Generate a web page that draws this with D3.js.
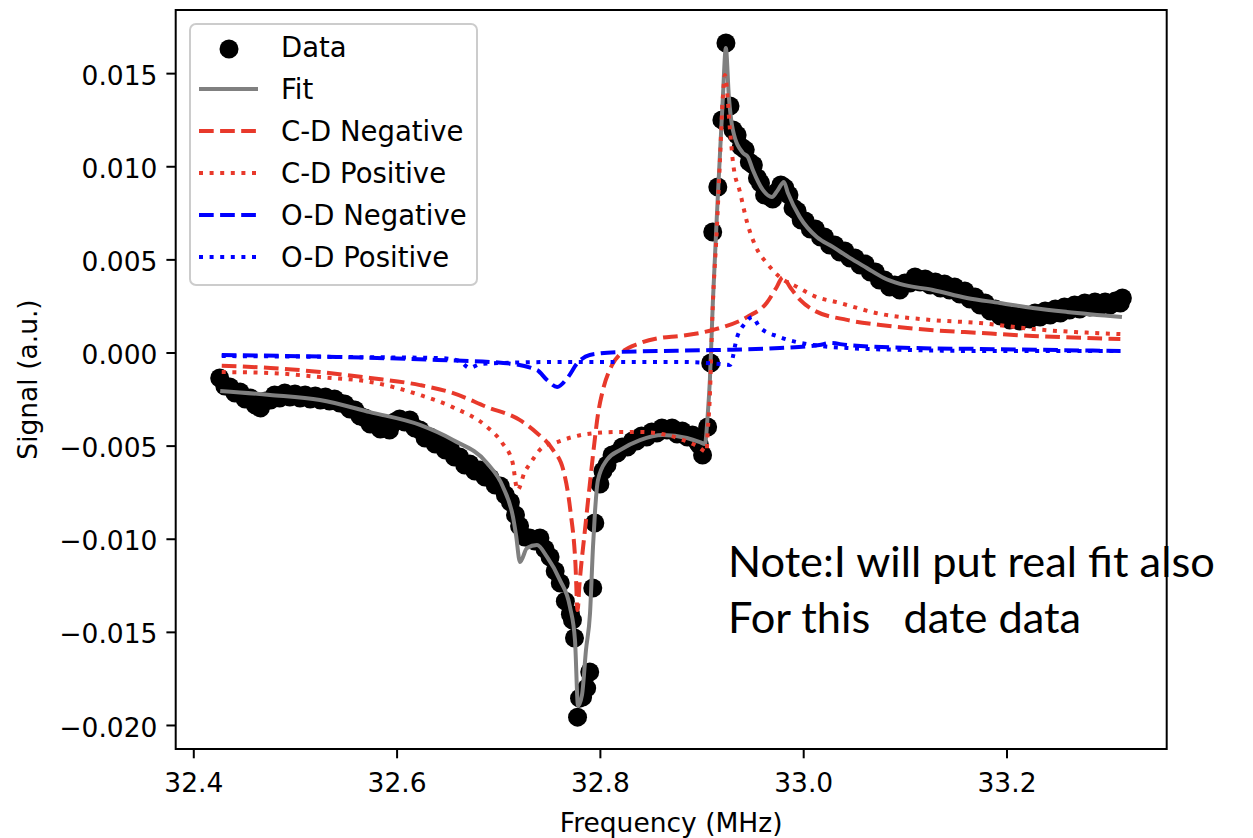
<!DOCTYPE html>
<html>
<head>
<meta charset="utf-8" />
<script src="https://d3js.org/d3.v7.min.js"></script>
<style>
  body { margin: 0; background: white; }
  svg text { font-family: "DejaVu Sans", sans-serif; }
</style>
</head>
<body>
<div id="chart"></div>
<script>
  // measured points (frequency in MHz, signal in a.u.)
  const dataFreq = [
    32.426, 32.431, 32.436, 32.441, 32.446, 32.451, 32.456, 32.461, 32.466, 32.471,
    32.476, 32.480, 32.485, 32.490, 32.495, 32.500, 32.505, 32.510, 32.515, 32.520,
    32.525, 32.530, 32.534, 32.539, 32.544, 32.549, 32.554, 32.559, 32.564, 32.569,
    32.574, 32.579, 32.584, 32.589, 32.593, 32.598, 32.603, 32.608, 32.613, 32.618,
    32.623, 32.628, 32.633, 32.638, 32.643, 32.648, 32.653, 32.657, 32.662, 32.667,
    32.672, 32.677, 32.682, 32.687, 32.692, 32.697, 32.702, 32.707, 32.712, 32.717,
    32.721, 32.726, 32.731, 32.736, 32.741, 32.746, 32.751, 32.756, 32.761, 32.766,
    32.771, 32.773, 32.775, 32.778, 32.780, 32.783, 32.787, 32.790, 32.793, 32.795,
    32.800, 32.803, 32.807, 32.812, 32.817, 32.822, 32.827, 32.832, 32.836, 32.841,
    32.846, 32.851, 32.856, 32.861, 32.866, 32.871, 32.876, 32.881, 32.886, 32.891,
    32.896, 32.898, 32.901, 32.906, 32.909, 32.911, 32.916, 32.920, 32.924, 32.928,
    32.931, 32.935, 32.939, 32.943, 32.947, 32.951, 32.955, 32.958, 32.962, 32.966,
    32.970, 32.974, 32.978, 32.982, 32.986, 32.990, 32.994, 32.998, 33.002, 33.007,
    33.012, 33.017, 33.021, 33.026, 33.031, 33.036, 33.041, 33.046, 33.051, 33.056,
    33.061, 33.066, 33.071, 33.075, 33.080, 33.085, 33.090, 33.095, 33.100, 33.105,
    33.110, 33.115, 33.120, 33.125, 33.130, 33.135, 33.139, 33.144, 33.149, 33.154,
    33.159, 33.164, 33.169, 33.174, 33.179, 33.184, 33.189, 33.194, 33.198, 33.203,
    33.208, 33.213, 33.218, 33.223, 33.228, 33.233, 33.238, 33.243, 33.248, 33.253,
    33.257, 33.262, 33.267, 33.272, 33.277, 33.282, 33.287, 33.292, 33.297, 33.302,
    33.307, 33.312, 33.314
  ];
  const dataSignal = [
    -0.00137, -0.00180, -0.00185, -0.00217, -0.00212, -0.00250, -0.00244, -0.00282, -0.00298, -0.00260,
    -0.00255, -0.00228, -0.00244, -0.00217, -0.00239, -0.00223, -0.00244, -0.00228, -0.00250, -0.00234,
    -0.00255, -0.00239, -0.00260, -0.00250, -0.00271, -0.00277, -0.00303, -0.00309, -0.00341, -0.00352,
    -0.00384, -0.00379, -0.00411, -0.00395, -0.00416, -0.00373, -0.00357, -0.00373, -0.00362, -0.00405,
    -0.00416, -0.00459, -0.00454, -0.00491, -0.00486, -0.00524, -0.00518, -0.00561, -0.00561, -0.00604,
    -0.00599, -0.00636, -0.00631, -0.00669, -0.00674, -0.00712, -0.00717, -0.00765, -0.00803, -0.00872,
    -0.00932, -0.00991, -0.00996, -0.01012, -0.00996, -0.01055, -0.01098, -0.01173, -0.01238, -0.01335,
    -0.01405, -0.01437, -0.01533, -0.01958, -0.01856, -0.01850, -0.01802, -0.01716, -0.01265, -0.00916,
    -0.00706, -0.00636, -0.00604, -0.00550, -0.00540, -0.00507, -0.00507, -0.00475, -0.00475, -0.00448,
    -0.00454, -0.00427, -0.00432, -0.00405, -0.00416, -0.00405, -0.00438, -0.00422, -0.00454, -0.00443,
    -0.00481, -0.00497, -0.00550, -0.00400, -0.00056, 0.00647, 0.00889, 0.01249, 0.01662, 0.01324,
    0.01195, 0.01168, 0.01104, 0.01088, 0.01023, 0.01007, 0.00937, 0.00910, 0.00846, 0.00840,
    0.00824, 0.00862, 0.00900, 0.00884, 0.00846, 0.00776, 0.00760, 0.00711, 0.00706, 0.00663,
    0.00663, 0.00620, 0.00620, 0.00577, 0.00577, 0.00540, 0.00545, 0.00507, 0.00507, 0.00470,
    0.00475, 0.00432, 0.00432, 0.00389, 0.00389, 0.00352, 0.00362, 0.00336, 0.00373, 0.00373,
    0.00405, 0.00379, 0.00395, 0.00362, 0.00379, 0.00346, 0.00368, 0.00336, 0.00352, 0.00314,
    0.00330, 0.00287, 0.00298, 0.00255, 0.00266, 0.00223, 0.00234, 0.00196, 0.00212, 0.00175,
    0.00196, 0.00169, 0.00201, 0.00180, 0.00212, 0.00191, 0.00223, 0.00201, 0.00234, 0.00212,
    0.00244, 0.00228, 0.00255, 0.00234, 0.00266, 0.00244, 0.00271, 0.00250, 0.00271, 0.00255,
    0.00276, 0.00266, 0.00293
  ];

  // total fit
  const fitFreq = [
    32.4265, 32.4755, 32.5246, 32.5738, 32.6230, 32.6555, 32.6889, 32.7047, 32.7145, 32.7175,
    32.7214, 32.7283, 32.7381, 32.7480, 32.7607, 32.7706, 32.7755, 32.7785, 32.7824, 32.7863,
    32.7903, 32.7932, 32.7951, 32.7981, 32.8069, 32.8197, 32.8394, 32.8620, 32.8856, 32.8984,
    32.9033, 32.9062, 32.9082, 32.9111, 32.9160, 32.9210, 32.9239, 32.9269, 32.9308, 32.9406,
    32.9456, 32.9505, 32.9603, 32.9692, 32.9751, 32.9810, 32.9849, 32.9967, 33.0134, 33.0292,
    33.0459, 33.0626, 33.0794, 33.0951, 33.1276, 33.1610, 33.1935, 33.2260, 33.2594, 33.3136
  ];
  const fitSignal = [
    -0.00207, -0.00228, -0.00255, -0.00320, -0.00389, -0.00470, -0.00593, -0.00722, -0.00883, -0.00980,
    -0.01125, -0.01050, -0.01034, -0.01098, -0.01222, -0.01367, -0.01544, -0.01898, -0.01839, -0.01598,
    -0.01399, -0.01045, -0.00862, -0.00685, -0.00577, -0.00524, -0.00470, -0.00443, -0.00459, -0.00481,
    -0.00491, -0.00325, -0.00148, 0.00266, 0.00835, 0.01372, 0.01635, 0.01372, 0.01195, 0.01072,
    0.01050, 0.00980, 0.00873, 0.00835, 0.00873, 0.00916, 0.00857, 0.00727, 0.00620, 0.00567,
    0.00508, 0.00454, 0.00400, 0.00368, 0.00336, 0.00293, 0.00266, 0.00239, 0.00218, 0.00191
  ];

  // C-D negative component
  const cdNegFreq = [
    32.428, 32.476, 32.525, 32.574, 32.623, 32.655, 32.689, 32.721, 32.738, 32.754,
    32.764, 32.771, 32.776, 32.778, 32.780, 32.785, 32.790, 32.794, 32.798, 32.803,
    32.812, 32.820, 32.840, 32.859, 32.879, 32.911, 32.945, 32.964, 32.974, 32.980,
    32.987, 32.997, 33.010, 33.043, 33.076, 33.125, 33.174, 33.226, 33.312
  ];
  const cdNegSignal = [
    -0.00071, -0.00083, -0.00105, -0.00137, -0.00175, -0.00217, -0.00293, -0.00362, -0.00432, -0.00524,
    -0.00631, -0.00851, -0.01141, -0.01383, -0.01238, -0.00969, -0.00712, -0.00513, -0.00336, -0.00201,
    -0.00067, -0.00008, 0.00051, 0.00078, 0.00089, 0.00121, 0.00191, 0.00266, 0.00352, 0.00405,
    0.00352, 0.00282, 0.00228, 0.00175, 0.00148, 0.00121, 0.00105, 0.00089, 0.00072
  ];

  // C-D positive component
  const cdPosFreq = [
    32.428, 32.476, 32.525, 32.574, 32.623, 32.655, 32.689, 32.704, 32.714, 32.719,
    32.726, 32.731, 32.744, 32.758, 32.773, 32.797, 32.820, 32.839, 32.866, 32.882,
    32.897, 32.905, 32.906, 32.908, 32.911, 32.915, 32.918, 32.921, 32.923, 32.928,
    32.931, 32.938, 32.945, 32.955, 32.964, 32.977, 32.994, 33.011, 33.036, 33.076,
    33.125, 33.174, 33.226, 33.312
  ];
  const cdPosSignal = [
    -0.00105, -0.00110, -0.00132, -0.00158, -0.00228, -0.00293, -0.00400, -0.00486, -0.00588, -0.00739,
    -0.00642, -0.00599, -0.00507, -0.00481, -0.00454, -0.00432, -0.00427, -0.00427, -0.00443, -0.00470,
    -0.00507, -0.00534, -0.00432, -0.00255, 0.00244, 0.00658, 0.01018, 0.01372, 0.01490, 0.01195,
    0.01018, 0.00857, 0.00695, 0.00550, 0.00481, 0.00405, 0.00352, 0.00303, 0.00266, 0.00207,
    0.00175, 0.00158, 0.00126, 0.00099
  ];

  // O-D negative component
  const odNegFreq = [
    32.428, 32.541, 32.640, 32.705, 32.738, 32.748, 32.758, 32.768, 32.778, 32.790,
    32.820, 32.911, 32.977, 33.016, 33.026, 33.043, 33.108, 33.174, 33.312
  ];
  const odNegSignal = [
    -0.00013, -0.00024, -0.00040, -0.00056, -0.00094, -0.00148, -0.00185, -0.00137, -0.00056, -0.00013,
    0.00003, 0.00013, 0.00024, 0.00040, 0.00051, 0.00040, 0.00024, 0.00019, 0.00008
  ];

  // O-D positive component
  const odPosFreq = [
    32.428, 32.544, 32.643, 32.662, 32.672, 32.682, 32.705, 32.761, 32.820, 32.879,
    32.918, 32.928, 32.935, 32.943, 32.950, 32.957, 32.977, 33.010, 33.043, 33.108,
    33.174, 33.312
  ];
  const odPosSignal = [
    -0.00019, -0.00024, -0.00030, -0.00046, -0.00083, -0.00062, -0.00056, -0.00051, -0.00051, -0.00051,
    -0.00062, -0.00067, 0.00083, 0.00158, 0.00191, 0.00137, 0.00083, 0.00040, 0.00024, 0.00013,
    0.00008, 0.00008
  ];

  const xTicks = [32.4, 32.6, 32.8, 33.0, 33.2];
  const yTicks = [-0.020, -0.015, -0.010, -0.005, 0.000, 0.005, 0.010, 0.015];
  const xLimits = [32.3827, 33.3576];
  const yLimits = [-0.02129, 0.01839];
  const legendLabels = ["Data", "Fit", "C-D Negative", "C-D Positive", "O-D Negative", "O-D Positive"];
  const noteLines = ["Note:I will put real fit also", "For this   date data"];

  const width = 1253;
  const height = 838;
  const margin = {top: 10, right: 86.3, bottom: 89, left: 175.7};
  const red = "#e8392b";
  const fontSize = 26.5;
  const legendFont = 27.5;

  const svg = d3.select("#chart").append("svg")
    .attr("width", width)
    .attr("height", height)
    .style("display", "block");

  svg.append("rect").attr("width", width).attr("height", height).attr("fill", "white");

  const x = d3.scaleLinear().domain(xLimits).range([margin.left, width - margin.right]);
  const y = d3.scaleLinear().domain(yLimits).range([height - margin.bottom, margin.top]);

  const zip = (fs, ss) => fs.map((f, i) => ({f: f, s: ss[i]}));
  const line = d3.line().x(d => x(d.f)).y(d => y(d.s)).curve(d3.curveMonotoneX);

  // data scatter
  svg.append("g")
    .selectAll("circle")
    .data(zip(dataFreq, dataSignal))
    .join("circle")
      .attr("cx", d => x(d.f))
      .attr("cy", d => y(d.s))
      .attr("r", 9.5)
      .attr("fill", "black");

  const series = [
    {data: zip(fitFreq, fitSignal), color: "gray", dash: null},
    {data: zip(cdNegFreq, cdNegSignal), color: red, dash: "14.7,6.4"},
    {data: zip(cdPosFreq, cdPosSignal), color: red, dash: "4,6.6"},
    {data: zip(odNegFreq, odNegSignal), color: "blue", dash: "14.7,6.4"},
    {data: zip(odPosFreq, odPosSignal), color: "blue", dash: "4,6.6"}
  ];

  series.forEach(s => {
    svg.append("path")
      .datum(s.data)
      .attr("d", line)
      .attr("fill", "none")
      .attr("stroke", s.color)
      .attr("stroke-width", 4)
      .attr("stroke-linejoin", "round")
      .attr("stroke-dasharray", s.dash);
  });

  // annotation text (sits under the frame)
  const note = svg.append("g");
  const noteText = noteLines.map((t, i) => note.append("text")
    .attr("x", 728)
    .attr("y", 577 + i * 56)
    .style("font-family", "Lato, 'Open Sans', sans-serif")
    .style("font-size", "35px")
    .style("white-space", "pre")
    .attr("fill", "black")
    .text(t));
  const w0 = noteText[0].node().getComputedTextLength();
  const noteSize = 35 * 487 / w0;
  noteText.forEach(t => t.style("font-size", noteSize + "px"));

  // axes
  const xAxis = svg.append("g")
    .attr("transform", `translate(0,${height - margin.bottom})`)
    .call(d3.axisBottom(x).tickValues(xTicks).tickFormat(d3.format(".1f")).tickSize(9.3).tickPadding(9));
  const yAxis = svg.append("g")
    .attr("transform", `translate(${margin.left},0)`)
    .call(d3.axisLeft(y).tickValues(yTicks).tickFormat(d => d3.format(".3f")(d).replace("-", "\u2212")).tickSize(9.3).tickPadding(9));

  [xAxis, yAxis].forEach(g => {
    g.select(".domain").remove();
    g.selectAll(".tick line").attr("stroke", "black").attr("stroke-width", 2);
    g.selectAll(".tick text")
      .attr("fill", "black")
      .style("font-family", "'DejaVu Sans', sans-serif")
      .style("font-size", fontSize + "px");
  });
  xAxis.selectAll(".tick text").attr("dy", null).attr("y", 43);
  yAxis.selectAll(".tick text").attr("dy", "0.42em");

  svg.append("rect")
    .attr("x", margin.left)
    .attr("y", margin.top)
    .attr("width", width - margin.left - margin.right)
    .attr("height", height - margin.top - margin.bottom)
    .attr("fill", "none")
    .attr("stroke", "black")
    .attr("stroke-width", 2);

  svg.append("text")
    .attr("x", (margin.left + width - margin.right) / 2)
    .attr("y", 832)
    .attr("text-anchor", "middle")
    .style("font-size", fontSize + "px")
    .text("Frequency (MHz)");

  svg.append("text")
    .attr("transform", `translate(37,${(margin.top + height - margin.bottom) / 2}) rotate(-90)`)
    .attr("text-anchor", "middle")
    .style("font-size", fontSize + "px")
    .text("Signal (a.u.)");

  // legend
  const legend = svg.append("g");
  legend.append("rect")
    .attr("x", 190).attr("y", 24)
    .attr("width", 287).attr("height", 261)
    .attr("rx", 6)
    .attr("fill", "white").attr("fill-opacity", 0.8)
    .attr("stroke", "#cccccc").attr("stroke-width", 2);

  legendLabels.forEach((label, i) => {
    const cy = 47 + i * 42;
    if (i === 0) {
      legend.append("circle").attr("cx", 229).attr("cy", cy + 2).attr("r", 9.5).attr("fill", "black");
    } else {
      const s = series[i - 1];
      legend.append("line")
        .attr("x1", 199).attr("x2", 258)
        .attr("y1", cy).attr("y2", cy)
        .attr("stroke", s.color)
        .attr("stroke-width", 4)
        .attr("stroke-dasharray", s.dash);
    }
    legend.append("text")
      .attr("x", 281)
      .attr("y", cy + 10)
      .style("font-size", legendFont + "px")
      .text(label);
  });
</script>
</body>
</html>
